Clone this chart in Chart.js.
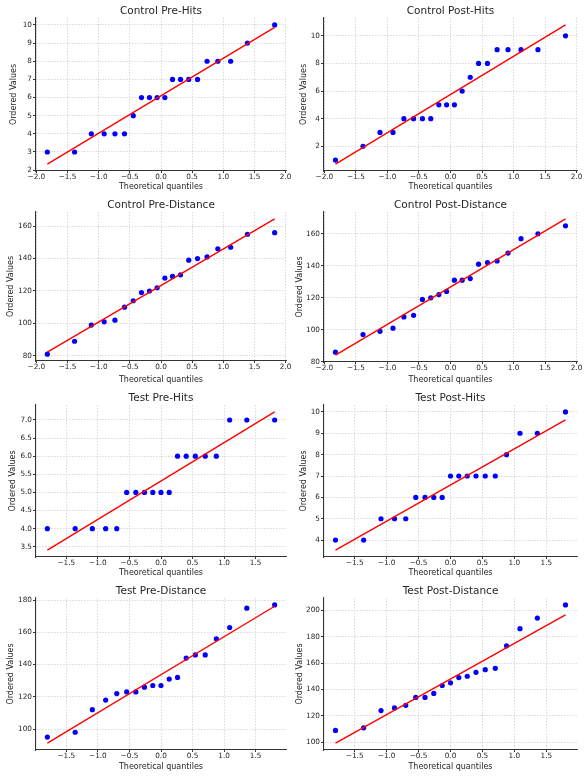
<!DOCTYPE html>
<html><head><meta charset="utf-8">
<script src="https://cdn.jsdelivr.net/npm/chart.js@4.4.1/dist/chart.umd.min.js"></script>
<style>
html,body{margin:0;padding:0;background:#fff;width:586px;height:779px;overflow:hidden}
canvas{position:absolute;display:block}
</style></head><body>
<script>
// ---- data ----
const controlQuantiles = [-1.824,-1.387,-1.118,-0.912,-0.739,-0.586,-0.445,-0.313,-0.185,-0.062,0.062,0.185,0.313,0.445,0.586,0.739,0.912,1.118,1.387,1.824];
const testQuantiles = [-1.801,-1.360,-1.088,-0.877,-0.701,-0.544,-0.399,-0.262,-0.130,0,0.130,0.262,0.399,0.544,0.701,0.877,1.088,1.360,1.801];

const controlPreHits = [3,3,4,4,4,4,5,6,6,6,6,7,7,7,7,8,8,8,9,10];
const controlPostHits = [1,2,3,3,4,4,4,4,5,5,5,6,7,8,8,9,9,9,9,10];
const controlPreDistance = [81,89,99,101,102,110,114,119,120,122,128,129,130,139,140,141,146,147,155,156];
const controlPostDistance = [86,97,99,101,108,109,119,120,122,124,131,131,132,141,142,143,148,157,160,165];
const testPreHits = [4,4,4,4,4,5,5,5,5,5,5,6,6,6,6,6,7,7,7];
const testPostHits = [4,4,5,5,5,6,6,6,6,7,7,7,7,7,7,8,9,9,10];
const testPreDistance = [95,98,112,118,122,123,123,126,127,127,131,132,144,146,146,156,163,175,177];
const testPostDistance = [109,111,124,126,128,134,134,137,143,145,149,150,153,155,156,173,186,194,204];

// fit line values at the first and last quantile
const controlPreHitsFit = [2.335, 9.865];
const controlPostHitsFit = [0.712, 10.788];
const controlPreDistanceFit = [82.25, 164.55];
const controlPostDistanceFit = [84.1, 169.4];
const testPreHitsFit = [3.409, 7.223];
const testPostHitsFit = [3.533, 9.625];
const testPreDistanceFit = [91.29, 176.19];
const testPostDistanceFit = [99.41, 196.49];

// axis ranges [min, max, step, decimals]
const controlXAxis = [-2.006, 2.006, 0.5, 1];
const testXAxis = [-1.981, 1.981, 0.5, 1];
const controlPreHitsY = [1.952, 10.383, 1, 0];
const controlPostHitsY = [0.208, 11.292, 2, 0];
const controlPreDistanceY = [76.82, 168.73, 20, 0];
const controlPostDistanceY = [79.83, 173.67, 20, 0];
const testPreHitsY = [3.218, 7.414, 0.5, 1];
const testPostHitsY = [3.210, 10.323, 1, 0];
const testPreDistanceY = [87.0, 181.3, 20, 0];
const testPostDistanceY = [94.18, 209.23, 20, 0];

const titles = ['Control Pre-Hits','Control Post-Hits','Control Pre-Distance','Control Post-Distance','Test Pre-Hits','Test Post-Hits','Test Pre-Distance','Test Post-Distance'];

const panels = [
  {q: controlQuantiles, v: controlPreHits, fit: controlPreHitsFit, xa: controlXAxis, ya: controlPreHitsY},
  {q: controlQuantiles, v: controlPostHits, fit: controlPostHitsFit, xa: controlXAxis, ya: controlPostHitsY},
  {q: controlQuantiles, v: controlPreDistance, fit: controlPreDistanceFit, xa: controlXAxis, ya: controlPreDistanceY},
  {q: controlQuantiles, v: controlPostDistance, fit: controlPostDistanceFit, xa: controlXAxis, ya: controlPostDistanceY},
  {q: testQuantiles, v: testPreHits, fit: testPreHitsFit, xa: testXAxis, ya: testPreHitsY},
  {q: testQuantiles, v: testPostHits, fit: testPostHitsFit, xa: testXAxis, ya: testPostHitsY},
  {q: testQuantiles, v: testPreDistance, fit: testPreDistanceFit, xa: testXAxis, ya: testPreDistanceY},
  {q: testQuantiles, v: testPostDistance, fit: testPostDistanceFit, xa: testXAxis, ya: testPostDistanceY}
];

// ---- layout (canvas-relative pixel geometry) ----
const rowTops = [0,195,390,584];
const rowHeights = [195,195,194,195];
const rowChartTop = [18,17,15,14];
const rowChartBottom = [[171,171],[166,167],[167,167],[166,166]];
const rowXTitle = [[187,187],[185,185],[183,183],[183,183]];
const yTitleX = [[14,11],[11,7],[13,11],[11,7]];
const colLeft = [0,293];
const colChartLeft = [36,31];
const colPadRight = [7,9];

const FONT = "'DejaVu Sans', sans-serif";
const TXT = '#262626';
function fmt(v, d){ const s = Math.abs(v).toFixed(d); return (v < -1e-9 ? '\u2212' : '') + s; }

panels.forEach((p, i) => {
  const row = Math.floor(i/2), col = i % 2;
  const W = 293, H = rowHeights[row];
  const cv = document.createElement('canvas');
  cv.width = W; cv.height = H;
  cv.style.left = colLeft[col] + 'px'; cv.style.top = rowTops[row] + 'px';
  cv.style.width = W + 'px'; cv.style.height = H + 'px';
  document.body.appendChild(cv);

  const top = rowChartTop[row], bottom = rowChartBottom[row][col];
  const xH = rowXTitle[row][col] - bottom + 5;
  const yW = colChartLeft[col];

  const pts = p.q.map((x, k) => ({x: x, y: p.v[k]}));
  const line = [{x: p.q[0], y: p.fit[0]}, {x: p.q[p.q.length-1], y: p.fit[1]}];

  new Chart(cv, {
    type: 'scatter',
    data: {datasets: [
      {data: line, showLine: true, borderColor: '#ff0000', borderWidth: 1.4, pointRadius: 0, fill: false},
      {data: pts, pointRadius: 2.6, pointBackgroundColor: '#0000ff', pointBorderWidth: 0, borderColor: '#0000ff'}
    ]},
    options: {
      responsive: false, animation: false, devicePixelRatio: 1,
      layout: {padding: {left: 0, right: colPadRight[col], top: top - 14, bottom: H - bottom - xH}},
      plugins: {
        legend: {display: false}, tooltip: {enabled: false},
        title: {display: true, text: titles[i], fullSize: false, color: TXT, padding: 0,
                font: {family: FONT, size: 10.5, weight: 'normal', lineHeight: 14/10.5}}
      },
      scales: {
        x: {
          type: 'linear', min: p.xa[0], max: p.xa[1],
          afterFit: (s) => { s.height = xH; s.paddingLeft = 0; s.paddingRight = 0; },
          ticks: {stepSize: p.xa[2], includeBounds: false, autoSkip: false, maxRotation: 0, padding: 0,
                  color: TXT, font: {family: FONT, size: 7.3}, callback: (v) => fmt(v, p.xa[3])},
          grid: {color: '#cfcfcf', lineWidth: 0.8, drawTicks: true, tickLength: 2, tickColor: '#333', tickWidth: 1},
          border: {display: true, color: '#333', width: 1.1, dash: [1.5, 1.5]},
          title: {display: true, text: 'Theoretical quantiles', color: TXT, padding: {top: 0, bottom: 0},
                  font: {family: FONT, size: 8, lineHeight: 1.25}}
        },
        y: {
          type: 'linear', min: p.ya[0], max: p.ya[1],
          afterFit: (s) => { s.width = yW; s.paddingTop = 0; s.paddingBottom = 0; },
          ticks: {stepSize: p.ya[2], includeBounds: false, autoSkip: false, padding: 1,
                  color: TXT, font: {family: FONT, size: 7.3}, callback: (v) => fmt(v, p.ya[3])},
          grid: {color: '#cfcfcf', lineWidth: 0.8, drawTicks: true, tickLength: 3, tickColor: '#333', tickWidth: 1},
          border: {display: true, color: '#333', width: 1.1, dash: [1.5, 1.5]},
          title: {display: true, text: 'Ordered Values', color: TXT, padding: {top: yTitleX[row][col] - 5, bottom: 0},
                  font: {family: FONT, size: 8, lineHeight: 1.25}}
        }
      }
    }
  });
});
</script>
</body></html>
